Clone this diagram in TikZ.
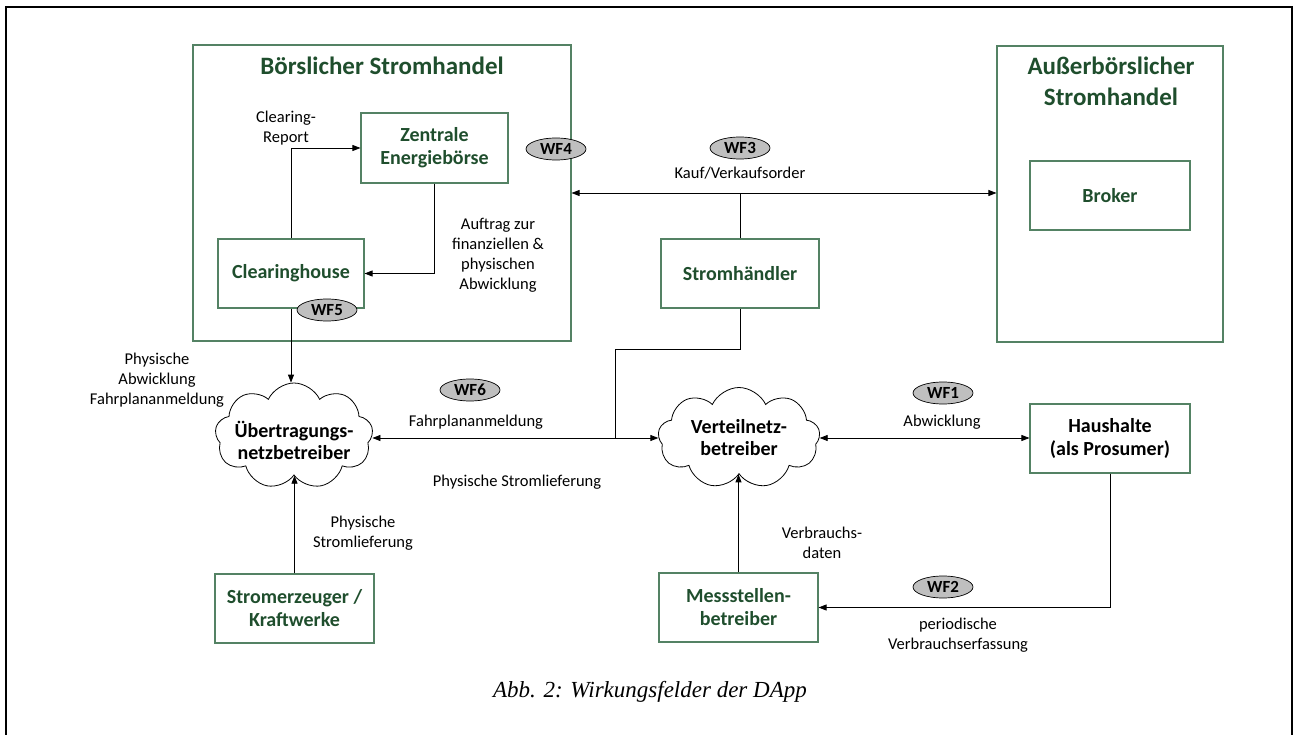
\documentclass[tikz,border=0pt]{standalone}
\usepackage{fontspec}
\setmainfont{Carlito}
\newfontfamily\capfont{Liberation Serif}
\usetikzlibrary{arrows.meta,shapes.symbols,shapes.geometric}
\definecolor{tgreen}{RGB}{31,78,45}
\definecolor{bgreen}{RGB}{84,130,100}
\definecolor{wfgray}{RGB}{191,191,191}
\begin{document}
\begin{tikzpicture}[x=1pt,y=-1pt,
  box/.style={draw=bgreen, line width=1.1pt, inner sep=0pt, align=center, text=tgreen,
    font=\fontsize{20}{23}\selectfont\bfseries},
  area/.style={draw=bgreen, line width=1.1pt, inner sep=0pt},
  areatitle/.style={align=center, text=tgreen, font=\fontsize{25}{31}\selectfont\bfseries},
  netz/.style={cloud, draw, line width=0.8pt, cloud puffs=9, cloud puff arc=130, cloud ignores aspect,
    inner sep=0pt},
  netztext/.style={align=center, inner sep=0pt, font=\fontsize{20}{22}\selectfont\bfseries},
  wf/.style={ellipse, draw, fill=wfgray, line width=0.7pt, minimum width=60pt, minimum height=22pt,
    inner sep=0pt, font=\fontsize{17}{18}\selectfont\bfseries},
  lbl/.style={align=center, inner sep=0pt, font=\fontsize{16.5}{20}\selectfont},
  conn/.style={line width=0.8pt},
  arr/.style={conn, -{Triangle[length=8pt,width=6pt]}},
  darr/.style={conn, {Triangle[length=8pt,width=6pt]}-{Triangle[length=8pt,width=6pt]}}
]
\useasboundingbox (0,0) rectangle (1293,735);
% outer frame
\draw[line width=2pt] (6,745) -- (6,7) -- (1292,7) -- (1292,745);

% areas
\node[area, minimum width=378pt, minimum height=296pt] (boerse) at (382,193) {};
\node[areatitle] (boersetitle) at (382,66) {Börslicher Stromhandel};
\node[area, minimum width=226pt, minimum height=296pt] (aussen) at (1110,194) {};
\node[areatitle] (aussentitle) at (1111,81.5) {Außerbörslicher\\Stromhandel};

% boxes
\node[box, minimum width=147pt, minimum height=70pt] (zeb) at (434.5,148) {Zentrale\\Energiebörse};
\node[box, minimum width=146pt, minimum height=69pt] (ch) at (291,273.5) {Clearinghouse};
\node[box, minimum width=158pt, minimum height=69pt] (sh) at (740,273.5) {Stromhändler};
\node[box, minimum width=160pt, minimum height=69pt] (broker) at (1110,195.5) {Broker};
\node[box, minimum width=160pt, minimum height=69pt, text=black] (hh) at (1110,438.5) {Haushalte\\(als Prosumer)};
\node[box, minimum width=159pt, minimum height=69pt] (ms) at (738.5,607.5) {Messstellen-\\betreiber};
\node[box, minimum width=159pt, minimum height=69pt] (se) at (294.5,608.5) {Stromerzeuger /\\Kraftwerke};

% clouds
\node[netz, minimum width=158pt, minimum height=106pt] (uenb) at (294,436) {};
\node[netztext] (uenbtext) at (294,440) {Übertragungs-\\netzbetreiber};
\node[netz, minimum width=162pt, minimum height=101pt] (vnb) at (739,438) {};
\node[netztext] (vnbtext) at (vnb.center) {Verteilnetz-\\betreiber};

% connectors
\draw[arr] (ch.north) |- (zeb.west);
\draw[arr] (zeb.south) |- (ch.east);
\draw[arr] (ch.south) -- (ch.south |- uenb.north);
\draw[darr] (boerse.east) -- (boerse.east -| aussen.west);
\draw[conn] (sh.north) -- (sh.north |- boerse.east);
\coordinate (bend) at (615,349);
\coordinate (j) at (615,438);
\draw[conn] (sh.south) |- (bend) -- (j);
\draw[arr] (j) -- (j -| uenb.east);
\draw[arr] (j) -- (j -| vnb.west);
\draw[darr] (vnb.east) -- (vnb.east -| hh.west);
\draw[arr] (ms.north) -- (ms.north |- vnb.south);
\draw[arr] (se.north) -- (se.north |- uenb.south);
\draw[arr] (hh.south) |- (ms.east);

% WF markers
\node[wf] (wf4) at (556,149) {WF4};
\node[wf] (wf3) at (740,148) {WF3};
\node[wf] (wf5) at (327,310) {WF5};
\node[wf] (wf6) at (470,390) {WF6};
\node[wf] (wf1) at (943,393) {WF1};
\node[wf] (wf2) at (943,587) {WF2};

% labels
\node[lbl] (lclear) at (286,128) {Clearing-\\Report};
\node[lbl] (lauftrag) at (498,255) {Auftrag zur\\finanziellen \&\\physischen\\Abwicklung};
\node[lbl] (lkauf) at (740,173) {Kauf/Verkaufsorder};
\node[lbl] (lphysab) at (157,380) {Physische\\Abwicklung\\Fahrplananmeldung};
\node[lbl] (lfahr) at (476,422) {Fahrplananmeldung};
\node[lbl] (lstrom) at (517,482) {Physische Stromlieferung};
\node[lbl] (lstrom2) at (363,533) {Physische\\Stromlieferung};
\node[lbl] (labw) at (942,422) {Abwicklung};
\node[lbl] (lverb) at (822,543) {Verbrauchs-\\daten};
\node[lbl] (lperiod) at (958,635) {periodische\\Verbrauchserfassung};

% caption
\node[inner sep=0pt, font=\capfont\itshape\fontsize{23}{27}\selectfont] (caption) at (650,692) {Abb. 2: Wirkungsfelder der DApp};
\end{tikzpicture}
\end{document}
